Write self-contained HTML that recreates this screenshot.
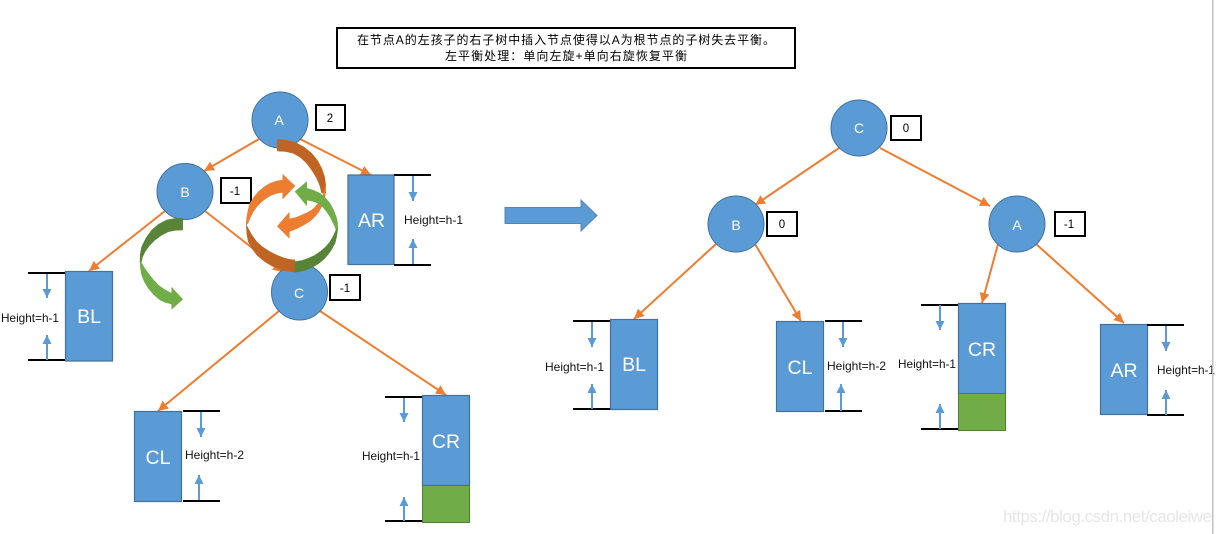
<!DOCTYPE html>
<html><head><meta charset="utf-8"><style>
html,body{margin:0;padding:0;background:#fff}
svg{display:block}
.h{font:12px "Liberation Sans",sans-serif;fill:#111}
.t{font-family:"Liberation Sans",sans-serif;fill:#fff;text-anchor:middle}
.b{font:11.5px "Liberation Sans",sans-serif;fill:#000;text-anchor:middle}
.o line{stroke:#ed7d31;stroke-width:2;marker-end:url(#oh)}
.u line{stroke:#5b9bd5;stroke-width:2;marker-end:url(#bh)}
.k line{stroke:#000;stroke-width:2}
.n circle{fill:#5b9bd5;stroke:#41719c;stroke-width:1}
.r rect{fill:#5b9bd5;stroke:#41719c;stroke-width:1.2}
.x rect{fill:#fff;stroke:#000;stroke-width:2}
.c polygon{stroke-width:.5;stroke-linejoin:round}
</style></head><body>
<svg width="1221" height="534" viewBox="0 0 1221 534" xmlns="http://www.w3.org/2000/svg">
<defs>
<marker id="oh" markerUnits="userSpaceOnUse" markerWidth="11" markerHeight="10" refX="10" refY="5" orient="auto"><path d="M0 0L10 5L0 10Z" fill="#ed7d31"/></marker>
<marker id="bh" markerUnits="userSpaceOnUse" markerWidth="10" markerHeight="9" refX="9" refY="4.5" orient="auto"><path d="M0 0L9 4.5L0 9Z" fill="#5b9bd5"/></marker>
</defs>
<rect x="337" y="28" width="458" height="40" fill="#fff" stroke="#000" stroke-width="2"/>
<text x="357" y="44" font-family="'Liberation Sans','Noto Sans CJK SC',sans-serif" font-size="12" textLength="418" fill="#000">在节点A的左孩子的右子树中插入节点使得以A为根节点的子树失去平衡。</text>
<text x="445" y="60" font-family="'Liberation Sans','Noto Sans CJK SC',sans-serif" font-size="12" textLength="242" fill="#000">左平衡处理：单向左旋+单向右旋恢复平衡</text>

<g class="o">
<line x1="259" y1="139" x2="204" y2="171"/><line x1="300" y1="139" x2="371" y2="175"/>
<line x1="165" y1="211" x2="89" y2="271"/><line x1="205" y1="211" x2="283" y2="272"/>
<line x1="279" y1="311" x2="158" y2="411"/><line x1="320" y1="311" x2="446" y2="395"/>
<line x1="839" y1="148" x2="755" y2="205"/><line x1="880" y1="148" x2="990" y2="206"/>
<line x1="716" y1="244" x2="634" y2="319"/><line x1="755" y1="244" x2="801" y2="321"/>
<line x1="998" y1="244" x2="982" y2="303"/><line x1="1036" y1="244" x2="1124" y2="323"/>
</g>

<g class="r">
<rect x="348" y="175" width="46" height="89.500"/><rect x="65.500" y="271.500" width="47" height="89.500"/>
<rect x="134.500" y="411.500" width="47" height="90"/><rect x="422.500" y="395.500" width="47" height="90"/>
<rect x="610.500" y="319.500" width="47" height="90"/><rect x="776.500" y="321.500" width="47" height="90"/>
<rect x="958.500" y="303.500" width="47" height="90"/><rect x="1100.500" y="324.500" width="47" height="90"/>
</g>
<rect x="422.500" y="485.500" width="47" height="37" fill="#70ad47" stroke="#507e32"/>
<rect x="958.500" y="393.500" width="47" height="37" fill="#70ad47" stroke="#507e32"/>

<g class="k">
<line x1="394" y1="175" x2="431" y2="175"/><line x1="394" y1="265" x2="431" y2="265"/>
<line x1="28" y1="273" x2="65" y2="273"/><line x1="28" y1="360" x2="65" y2="360"/>
<line x1="183" y1="411" x2="220" y2="411"/><line x1="183" y1="501" x2="220" y2="501"/>
<line x1="385" y1="397" x2="422" y2="397"/><line x1="385" y1="521" x2="422" y2="521"/>
<line x1="573" y1="321" x2="610" y2="321"/><line x1="573" y1="409" x2="610" y2="409"/>
<line x1="825" y1="321" x2="862" y2="321"/><line x1="825" y1="411" x2="862" y2="411"/>
<line x1="921" y1="305" x2="958" y2="305"/><line x1="921" y1="429" x2="958" y2="429"/>
<line x1="1147" y1="325" x2="1184" y2="325"/><line x1="1147" y1="415" x2="1184" y2="415"/>
</g>
<g class="u">
<line x1="413" y1="176" x2="413" y2="201"/><line x1="413" y1="264" x2="413" y2="239"/>
<line x1="47" y1="274" x2="47" y2="298"/><line x1="47" y1="360" x2="47" y2="335"/>
<line x1="201" y1="412" x2="201" y2="437"/><line x1="199" y1="500" x2="199" y2="475"/>
<line x1="404" y1="398" x2="404" y2="422"/><line x1="404" y1="521" x2="404" y2="497"/>
<line x1="592" y1="322" x2="592" y2="347"/><line x1="592" y1="409" x2="592" y2="384"/>
<line x1="843" y1="322" x2="843" y2="347"/><line x1="841" y1="411" x2="841" y2="384"/>
<line x1="940" y1="305" x2="940" y2="330"/><line x1="940" y1="429" x2="940" y2="404"/>
<line x1="1166" y1="326" x2="1166" y2="351"/><line x1="1166" y1="415" x2="1166" y2="390"/>
</g>

<g class="n">
<circle cx="280" cy="120" r="28"/><circle cx="185" cy="191.500" r="28"/><circle cx="299.500" cy="292" r="28"/>
<circle cx="859" cy="128" r="28"/><circle cx="736" cy="224" r="28"/><circle cx="1017" cy="224" r="28"/>
</g>
<g class="t" font-size="14">
<text x="279" y="125">A</text><text x="185" y="197">B</text><text x="299" y="298">C</text>
<text x="859" y="133">C</text><text x="736" y="230">B</text><text x="1017" y="230">A</text>
</g>
<g class="t" font-size="19.500">
<text x="371.500" y="227">AR</text>
<text x="89" y="323">BL</text>
<text x="158" y="464">CL</text>
<text x="446" y="448">CR</text>
<text x="634" y="371">BL</text>
<text x="800" y="374">CL</text>
<text x="982" y="356">CR</text>
<text x="1124" y="377">AR</text>
</g>

<g class="x">
<rect x="316" y="105" width="29" height="25"/><rect x="221" y="178" width="30" height="25"/><rect x="330" y="275" width="30" height="25"/>
<rect x="891" y="116" width="30" height="24"/><rect x="767" y="212" width="30" height="24"/><rect x="1055" y="212" width="30" height="24"/>
</g>
<g class="b">
<text x="330" y="122">2</text><text x="235" y="195">-1</text><text x="345" y="292">-1</text>
<text x="906" y="132">0</text><text x="782" y="228">0</text><text x="1069" y="228">-1</text>
</g>

<g class="h">
<text x="404" y="224" textLength="59" lengthAdjust="spacingAndGlyphs">Height=h-1</text>
<text x="1" y="322" textLength="58" lengthAdjust="spacingAndGlyphs">Height=h-1</text>
<text x="185" y="459" textLength="59" lengthAdjust="spacingAndGlyphs">Height=h-2</text>
<text x="362" y="460" textLength="58" lengthAdjust="spacingAndGlyphs">Height=h-1</text>
<text x="545" y="371" textLength="59" lengthAdjust="spacingAndGlyphs">Height=h-1</text>
<text x="827" y="370" textLength="59" lengthAdjust="spacingAndGlyphs">Height=h-2</text>
<text x="898" y="368" textLength="58" lengthAdjust="spacingAndGlyphs">Height=h-1</text>
<text x="1157" y="374" textLength="58" lengthAdjust="spacingAndGlyphs">Height=h-1</text>
</g>

<path d="M505 207.500H581V200L597 215.500L581 231V223.500H505Z" fill="#5b9bd5" stroke="#5585b5"/>

<g class="c">
<!-- arrow from A -->
<polygon fill="#bf6423" stroke="#bf6423" points="277.300,139.300 286,140.300 295,142.300 304,147 311.700,153.300 317.500,160.500 321.700,168.300 324.500,176.500 325.700,185 325.700,193 321.700,193 319.800,185.500 316.700,178.300 312,170.500 306.700,163.300 300.500,157.500 293.300,153.300 285.500,151.500 277.300,151"/>
<polygon fill="#ed7d31" stroke="#ed7d31" points="325.700,185 325.700,191 325,196.700 323.800,202 321.700,206.700 318.700,212 315,216.700 310.500,220.800 305,224.300 297.500,228.300 289.300,231.700 289.300,238.300 277.300,226.300 289.300,212.300 289.300,219 296,217.500 301.700,215 307,212.800 311.700,210 315,207 318,203.300 320.800,199.300 323,195"/>
<!-- left orange arrow -->
<polygon fill="#ed7d31" stroke="#ed7d31" points="282.700,180 282.700,174.300 295,186 282.700,199 282.700,192.300 277,193.300 271.700,195 266.500,198 261.700,201.700 257,206.500 253.300,211.700 250.300,217.500 248,223.300 246.300,225 246.400,221.500 246.700,218.300 248,210.500 250,203.300 254,197 258.300,191.700 264,187 270,183.300 276,181.200"/>
<polygon fill="#bf6423" stroke="#bf6423" points="246.300,225 246.800,233.500 248.300,241.700 252,248.500 256.700,255 264.500,261.500 273.300,266.700 284,270.500 295,272.300 295,260 289,259.300 283.300,257.700 276.500,255 270,251.700 263,247.200 256.700,241.700 251.500,234.500 247.300,226.700"/>
<!-- green arrow -->
<polygon fill="#70ad47" stroke="#70ad47" points="306.700,188.300 306.700,181.700 295,191.500 306.700,205.700 306.700,200 312.500,201.200 318.300,203.300 322.800,207 326.700,211.700 330.300,217.300 333.300,223.300 335,227 336,230 337.700,228.300 337.600,223 336.700,218.300 333.800,210.500 330,203.300 325.300,197.800 320,193.300 313.500,190.300"/>
<polygon fill="#578436" stroke="#578436" points="337.700,228.300 336.800,236 335,243.300 330.500,251.300 325,258.300 318.800,263.500 311.700,267.700 303.500,270.800 295,272.300 295,261.700 302,260.500 308.300,258.300 314.500,255.500 320,251.700 325.500,247 330,241.700 333.300,236 336,230"/>
<!-- small green arrow -->
<polygon fill="#578436" stroke="#578436" points="182.700,218.300 174.500,218.500 166.700,220 158.500,224.300 151.700,230 146,238 141.700,246.700 140.300,254 140,261.700 141,263.300 142.500,257 145,251.700 149.500,245.500 155,240 161.500,235.300 168.300,231.700 175.500,230.300 182.700,230"/>
<polygon fill="#70ad47" stroke="#70ad47" points="140,261.700 140.500,268.500 141.700,275 144.500,282 148.300,288.300 153.700,294.700 160,300 165.500,302.500 171.700,304 171.700,309.300 182.700,299.300 171.700,287.300 171.700,293.300 164.500,289.500 158.300,285 153,279.300 148.300,273.300 144.500,268 141.700,263.300"/>
</g>

<rect x="1212" y="0" width="1.500" height="534" fill="#c0c0c0"/>
<text x="1003" y="522" font-family="'Liberation Sans',sans-serif" font-size="17" fill="#e6e6e6" textLength="209">https://blog.csdn.net/caoleiwe</text>
</svg>
</body></html>
